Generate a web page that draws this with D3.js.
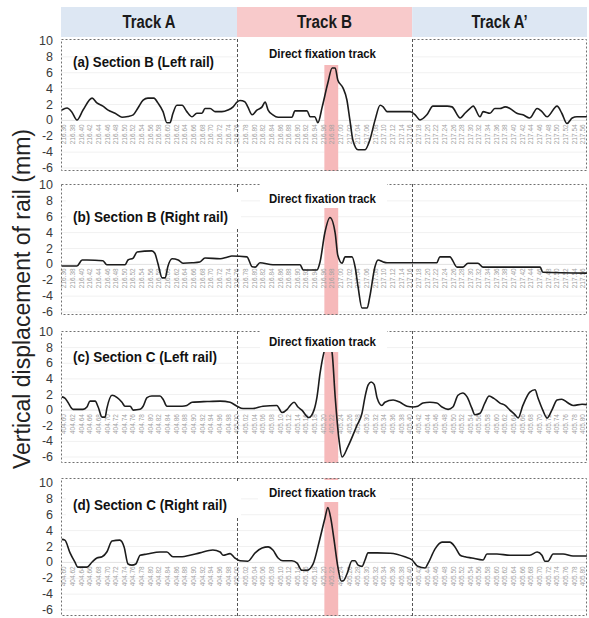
<!DOCTYPE html>
<html><head><meta charset="utf-8">
<script src="https://cdn.jsdelivr.net/npm/d3@7"></script>
<style>body{margin:0;background:#fff}svg{display:block}</style>
</head><body><svg width="589" height="618"></svg>
<script>
// ---------------- data ----------------
const trackNames = ["Track A", "Track B", "Track A\u2019"];
const trackBounds = [0, 400, 805, 1200];           // m from section start
const fixationZone = [602, 634];                   // m (direct fixation track)
const yTicks = [10, 8, 6, 4, 2, 0, -2, -4, -6];
const ticksB = d3.range(61).map(i => (216.36 + 0.02 * i).toFixed(2));
const ticksC = d3.range(61).map(i => (404.60 + 0.02 * i).toFixed(2));
const panelTitles = ["(a) Section B (Left rail)", "(b) Section B (Right rail)", "(c) Section C (Left rail)", "(d) Section C (Right rail)"];
const zoneLabel = "Direct fixation track";
const yTitle = "Vertical displacement of rail (mm)";

const distA = [-5,7,18,30,44,65,76,90,102,118,134,148,160,171,183,194,208,217,229,238,245,252,261,273,284,296,307,319,326,338,349,365,379,391,400,407,418,425,435,446,458,465,472,483,495,527,534,562,569,580,587,597,610,620,627,633,645,654,661,668,680,696,707,719,731,738,747,800,812,823,839,853,886,897,916,927,939,946,962,969,985,996,1008,1020,1031,1047,1061,1077,1094,1105,1117,1140,1151,1163,1175,1186,1209];
const dispA = [1.3,1.55,1.06,0.05,1.3,2.8,2.2,1.8,1.3,0.9,0.4,0.5,0.7,1.55,2.55,2.8,2.8,2.2,1.1,-0.3,-0.3,0.9,1.9,1.9,1.1,0.45,0.9,0.9,1.5,1.5,1.1,1.1,1.3,1.7,2.3,2.5,2.35,1.7,0.7,1.3,1.7,2.3,1.3,0.7,0.4,0.4,1.2,1.2,0.45,0.45,-0.3,1.7,4.7,6.6,6.6,5.1,4.1,2.6,0.05,-2.5,-3.7,-3.7,-2.5,0,1.9,1.7,1.1,1.1,0.7,0.05,0.7,1.8,1.8,1.7,0.3,0.9,1.5,1.8,0.45,1.1,0.9,1.5,1.5,1.7,1.5,0.9,0.7,0.3,1.5,1.1,0.45,1.8,0.9,-0.4,0.3,0.45,0.45];

const distB = [-5,30,42,53,90,99,141,148,160,169,203,210,217,227,234,240,250,264,275,296,314,326,361,377,388,423,435,442,453,483,546,553,585,592,603,615,627,633,643,650,666,673,680,689,701,707,719,726,738,747,862,869,892,909,922,934,957,969,1101,1107,1209];
const dispB = [-0.2,-0.2,0.55,0.55,0.45,-0.05,-0.05,0.55,0.8,1.55,1.7,1.4,0.15,-1.7,-1.7,-0.3,0.7,0.55,0.15,0.2,0.3,0.8,0.7,0.9,1.05,0.95,-0.3,-0.35,0.2,-0.05,-0.05,-0.7,-0.7,0.3,3.95,5.9,3.95,1.15,0.15,0.95,0.95,-0.3,-2.85,-5.5,-5.5,-4.1,-0.3,0.55,0.3,0.2,0.2,0.95,0.95,-0.35,-0.35,0.15,0.15,-0.35,-0.35,-1.0,-1.1];

const distC = [-5,2,9,21,44,53,60,72,79,88,95,99,111,123,134,141,153,160,176,183,192,203,222,229,238,273,284,296,331,361,384,400,414,437,460,492,504,516,523,532,541,550,566,578,585,592,601,612,620,627,636,643,657,677,689,696,703,710,717,724,735,742,761,777,793,807,818,830,846,862,874,888,899,911,922,932,943,950,962,973,983,994,1008,1020,1031,1043,1050,1061,1077,1089,1096,1107,1117,1128,1140,1151,1163,1177,1198,1209];
const dispC = [1.7,1.55,1.0,0.1,0.1,0.4,1.15,1.15,0.4,-0.9,-0.9,0.2,1.9,1.6,1.0,0.5,0.5,0,0.1,0.5,1.6,1.8,1.8,1.4,0.5,0.5,0.6,1.0,1.1,1.15,1.0,0.5,0.2,0.2,0.5,0.6,-0.3,0.1,0.6,1.0,0.4,0,-0.95,0,1.7,4.7,7.4,9.0,7.3,1.7,-3.85,-6.0,-4.6,-2.0,-0.4,1.7,3.2,3.6,3.3,1.55,0.6,1.0,1.3,1.0,0.5,0.4,0.5,0.9,1.0,0.9,0.4,0.1,0.4,1.9,2.2,1.7,0.25,-0.6,-0.4,0.9,1.8,1.5,0.9,0.6,0,-0.6,-1.0,0.6,2.3,2.6,1.55,0,-1.0,0,1.3,1.4,1.0,0.6,0.75,0.7];

const distD = [-5,2,14,25,32,53,65,76,88,99,111,129,139,148,157,166,176,192,222,238,252,273,291,314,344,361,368,384,395,407,425,442,458,472,483,495,506,527,539,550,562,576,590,603,610,617,624,633,641,646,654,666,673,680,689,696,703,724,754,788,805,818,835,842,858,874,892,904,916,927,943,969,978,1001,1031,1077,1094,1105,1112,1119,1131,1154,1177,1198,1209];
const dispD = [2.9,2.8,1.2,0.05,-0.6,-0.6,0.05,0.55,0.7,1.3,2.7,2.8,1.95,-0.2,-0.35,-0.2,0.9,1.05,1.3,1.3,0.7,0.7,0.9,1.2,1.55,1.3,0.9,1.1,0.55,0.2,0.15,1.2,1.8,1.95,1.55,0.55,0.2,0.2,-0.1,-1.0,-1.0,-0.2,2.6,5.5,6.9,5.5,3.0,-0.5,-2.35,-2.3,-1.5,0.2,0.2,-0.35,-0.5,0.3,1.2,1.2,1.15,0.7,0.3,-0.5,-0.7,-0.1,1.7,2.55,2.55,1.95,0.9,0.7,0.55,0.3,1.05,1.05,0.9,0.9,1.3,0.9,0.15,0.15,1.05,1.05,0.8,0.8,0.8];

// ---------------- layout ----------------
const FL = 61, FR = 587;
const FONT = "'Liberation Sans', Arial, sans-serif";
const x = d3.scaleLinear().domain([0, 1200]).range([64, 583]);
const panels = [
  {dist: distA, disp: dispA, ticks: ticksB, title: panelTitles[0], yr: [168, 41], fr: [39, 171], titleY: 62, titleW: 141, dfY: 53, dfBox: [238, 38, 412, 65], tBox: null},
  {dist: distB, disp: dispB, ticks: ticksB, title: panelTitles[1], yr: [312, 185], fr: [184, 315], titleY: 217, titleW: 155, dfY: 198, dfBox: [260, 180, 387, 208], tBox: [66, 193, 241, 227]},
  {dist: distC, disp: dispC, ticks: ticksC, title: panelTitles[2], yr: [457, 332], fr: [331, 463], titleY: 357, titleW: 144, dfY: 341, dfBox: [260, 326, 387, 352], tBox: null},
  {dist: distD, disp: dispD, ticks: ticksC, title: panelTitles[3], yr: [610, 483], fr: [478, 616], titleY: 505, titleW: 154, dfY: 492, dfBox: [258, 480, 390, 502], tBox: [66, 482, 241, 518]}
];

const svg = d3.select("svg");
const bx = trackBounds.map((d, i) => i === 0 ? FL : i === trackBounds.length - 1 ? FR : x(d));

// header bands
svg.selectAll("rect.hdr").data(trackNames).join("rect")
  .attr("x", (d, i) => bx[i]).attr("y", 7)
  .attr("width", (d, i) => bx[i + 1] - bx[i]).attr("height", 30)
  .attr("fill", (d, i) => i === 1 ? "#f8cacb" : "#dde7f3");
const hdrW = [53, 55, 56];
svg.selectAll("text.hdr").data(trackNames).join("text")
  .attr("x", (d, i) => (bx[i] + bx[i + 1]) / 2).attr("y", 22)
  .attr("text-anchor", "middle").attr("dominant-baseline", "central")
  .attr("font-family", FONT).attr("font-weight", "bold").attr("font-size", 18)
  .attr("textLength", (d, i) => hdrW[i]).attr("lengthAdjust", "spacingAndGlyphs")
  .attr("fill", "#1a1a1a").text(d => d);

// y title
svg.append("text")
  .attr("transform", "translate(30,299) rotate(-90)")
  .attr("text-anchor", "middle").attr("font-family", FONT).attr("font-size", 23)
  .attr("fill", "#222").text(yTitle);

panels.forEach((p, pi) => {
  const y = d3.scaleLinear().domain([-6, 10]).range(p.yr);
  const g = svg.append("g");
  const clipId = "clip" + pi;
  svg.append("clipPath").attr("id", clipId).append("rect")
    .attr("x", FL).attr("y", p.fr[0]).attr("width", FR - FL).attr("height", p.fr[1] - p.fr[0]);

  // gridlines
  g.selectAll("line.grid").data(yTicks.slice(1)).join("line")
    .attr("x1", FL).attr("x2", FR).attr("y1", d => y(d)).attr("y2", d => y(d))
    .attr("stroke", d => d === 0 ? "#e2e2e2" : "#f1f1f1").attr("stroke-width", 1);

  // fixation zone
  g.append("rect").attr("x", x(fixationZone[0])).attr("y", p.fr[0])
    .attr("width", x(fixationZone[1]) - x(fixationZone[0])).attr("height", p.fr[1] - p.fr[0])
    .attr("fill", "#f6b9ba");

  // x tick labels (rotated)
  g.selectAll("text.xt").data(p.ticks).join("text")
    .attr("transform", (d, i) => `translate(${x(i * 20)},${y(0) + 4}) rotate(-90)`)
    .attr("text-anchor", "end").attr("dy", "0.35em")
    .attr("font-family", FONT).attr("font-size", 6.5).attr("fill", "#a0a0a0")
    .text(d => d);

  // frame and track dividers
  g.append("rect").attr("x", FL + 0.5).attr("y", p.fr[0] + 0.5)
    .attr("width", FR - FL - 1).attr("height", p.fr[1] - p.fr[0] - 1)
    .attr("fill", "none").attr("stroke", "#707070").attr("stroke-dasharray", "2,2");
  g.selectAll("line.div").data(trackBounds.slice(1, -1)).join("line")
    .attr("x1", d => Math.round(x(d)) + 0.5).attr("x2", d => Math.round(x(d)) + 0.5)
    .attr("y1", p.fr[0]).attr("y2", p.fr[1])
    .attr("stroke", "#555").attr("stroke-dasharray", "3,2");

  // y tick labels
  g.selectAll("text.yt").data(yTicks).join("text")
    .attr("x", 53).attr("y", d => y(d)).attr("text-anchor", "end")
    .attr("dominant-baseline", "central").attr("font-family", FONT)
    .attr("font-size", 12.5).attr("fill", "#3a3a3a").text(d => d);

  // line
  const pts = p.dist.map((d, i) => [d, p.disp[i]]);
  g.append("path").datum(pts).attr("clip-path", `url(#${clipId})`)
    .attr("fill", "none").attr("stroke", "#1c1c1c").attr("stroke-width", 1.6)
    .attr("stroke-linejoin", "round")
    .attr("d", d3.line().x(d => x(d[0])).y(d => y(d[1])).curve(d3.curveMonotoneX));

  // white label boxes
  [p.dfBox, p.tBox].filter(Boolean).forEach(b => {
    g.append("rect").attr("x", b[0]).attr("y", b[1]).attr("width", b[2] - b[0]).attr("height", b[3] - b[1]).attr("fill", "#fff");
  });

  // labels
  g.append("text").attr("x", 73).attr("y", p.titleY).attr("dominant-baseline", "central")
    .attr("font-family", FONT).attr("font-weight", "bold").attr("font-size", 14.5)
    .attr("textLength", p.titleW).attr("lengthAdjust", "spacingAndGlyphs")
    .attr("fill", "#111").text(p.title);
  g.append("text").attr("x", 269).attr("y", p.dfY).attr("dominant-baseline", "central")
    .attr("font-family", FONT).attr("font-weight", "bold").attr("font-size", 13.5)
    .attr("textLength", 107).attr("lengthAdjust", "spacingAndGlyphs")
    .attr("fill", "#111").text(zoneLabel);
});
</script>
</body></html>
